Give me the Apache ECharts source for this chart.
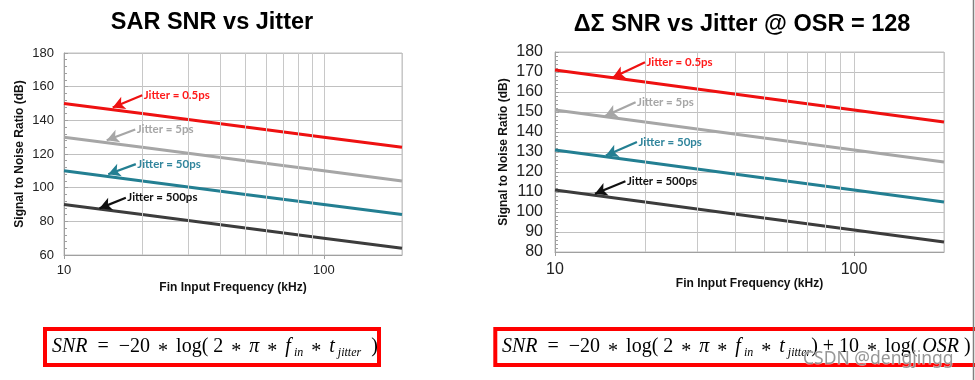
<!DOCTYPE html>
<html>
<head>
<meta charset="utf-8">
<script src="https://cdn.jsdelivr.net/npm/echarts@6/dist/echarts.min.js"></script>
<style>
html,body{margin:0;padding:0;background:#fff;}
#main{width:975px;height:380px;}
</style>
</head>
<body>
<div id="main"></div>
<script>
// ---------- data ----------
const freqs = [10, 20, 50, 100, 200];           // kHz
// SAR SNR (dB)
const sarJ0_5ps = [150, 144, 136, 130, 124];
const sarJ5ps   = [130, 124, 116, 110, 104];
const sarJ50ps  = [110, 104, 96, 90, 84];
const sarJ500ps = [90, 84, 76, 70, 64];
// Delta-Sigma SNR @ OSR=128 (dB)
const dsJ0_5ps = [171, 165, 157, 151, 145];
const dsJ5ps   = [151, 145, 137, 131, 125];
const dsJ50ps  = [131, 125, 117, 111, 105];
const dsJ500ps = [111, 105, 97, 91, 85];
const jitterLabels = ['Jitter = 0.5ps', 'Jitter = 5ps', 'Jitter = 50ps', 'Jitter = 500ps'];
const xTickLabels = [10, 100];
const minorFreqs = [20, 30, 40, 50, 60, 70, 80, 90];
const sarTicks = {min: 60, max: 180, interval: 20};
const dsTicks = {min: 80, max: 180, interval: 10};

// ---------- styles / annotation positions ----------
const colors = ['#ee1111', '#a6a6a6', '#237f92', '#3c3c3c'];
const textColors = ['#ff1a1a', '#a6a6a6', '#31859c', '#111111'];
const sarAnno = [
  {a: [20.0, 154.9], t: [15.4, 147.6]},
  {a: [18.8, 134.6], t: [14.6, 128.2]},
  {a: [18.9, 114.0], t: [14.8, 108.0]},
  {a: [17.3, 94.0], t: [13.7, 87.7]}
];
const dsAnno = [
  {a: [20.0, 174.9], t: [15.6, 167.2]},
  {a: [18.6, 154.9], t: [14.7, 148.0]},
  {a: [18.8, 135.0], t: [14.8, 128.2]},
  {a: [17.2, 115.4], t: [13.6, 109.1]}
];

function zip(xs, ys) { return xs.map((x, i) => [x, ys[i]]); }

function mkSeries(vals, idx, gi, anno) {
  return {
    type: 'line', xAxisIndex: gi, yAxisIndex: gi,
    data: zip(freqs, vals), symbol: 'none', smooth: false, z: 3,
    lineStyle: {color: colors[idx], width: 3},
    silent: true,
    markLine: {
      silent: true, symbol: ['none', 'arrow'], symbolSize: [10, 12],
      label: {show: false},
      lineStyle: {color: idx === 3 ? '#111' : colors[idx], width: 2.2, type: 'solid'},
      data: [[{coord: anno[idx].a}, {coord: anno[idx].t}]]
    },
    markPoint: {
      silent: true, symbol: 'circle', symbolSize: 1,
      itemStyle: {color: 'rgba(0,0,0,0)'},
      label: {
        show: true, position: 'right', distance: 1,
        formatter: jitterLabels[idx],
        color: textColors[idx], fontFamily: 'Lato', fontWeight: 'bold', fontSize: 11.5
      },
      data: [{coord: anno[idx].a}]
    }
  };
}

function gridLinesSeries(gi) {
  return {
    type: 'line', xAxisIndex: gi, yAxisIndex: gi, data: [], z: 1, silent: true,
    markLine: {
      silent: true, symbol: 'none', label: {show: false},
      lineStyle: {color: '#c8c8c8', width: 1, type: 'solid'},
      data: minorFreqs.map(f => ({xAxis: f}))
    }
  };
}

function xAxisCfg(gi, fs, margin, gap) {
  return {
    type: 'log', logBase: 10, min: 10, max: 200, gridIndex: gi,
    name: 'Fin Input Frequency (kHz)', nameLocation: 'middle', nameGap: gap,
    nameMoveOverlap: false,
    nameTextStyle: {fontFamily: 'Liberation Sans', fontWeight: 'bold', fontSize: 12, color: '#111'},
    axisLine: {lineStyle: {color: '#a0a0a0', width: 1}},
    axisTick: {show: true, length: 4, lineStyle: {color: '#a0a0a0'}},
    axisLabel: {
      fontFamily: 'Liberation Sans', fontSize: fs, color: '#222', margin: margin,
      showMaxLabel: false,
      formatter: v => (xTickLabels.indexOf(Math.round(v)) >= 0 ? String(Math.round(v)) : '')
    },
    splitLine: {show: true, lineStyle: {color: '#c8c8c8', width: 1}},
    minorTick: {show: false}, minorSplitLine: {show: false}
  };
}

function yAxisCfg(gi, t, fs, margin, gap) {
  return {
    type: 'value', gridIndex: gi, min: t.min, max: t.max, interval: t.interval,
    name: 'Signal to Noise Ratio (dB)', nameLocation: 'middle', nameGap: gap, nameRotate: 90,
    nameMoveOverlap: false,
    nameTextStyle: {fontFamily: 'Liberation Sans', fontWeight: 'bold', fontSize: 12, color: '#111'},
    axisLine: {show: true, lineStyle: {color: '#a0a0a0', width: 1}},
    axisTick: {show: true, inside: true, length: 4, lineStyle: {color: '#a0a0a0'}},
    minorTick: {show: true, splitNumber: 5, length: 3, lineStyle: {color: '#a0a0a0'}},
    axisLabel: {fontFamily: 'Liberation Sans', fontSize: fs, color: '#222', margin: margin},
    splitLine: {show: true, lineStyle: {color: '#c0c0c0', width: 1}}
  };
}

const serifFont = 'Liberation Serif';
function formulaRich(sz) {
  return {
    i: {fontFamily: serifFont, fontStyle: 'italic', fontSize: sz, color: '#000'},
    n: {fontFamily: serifFont, fontSize: sz, color: '#000'},
    a: {fontFamily: serifFont, fontSize: sz, color: '#000', padding: [sz * 0.5, 3, 0, 3]},
    s: {fontFamily: serifFont, fontStyle: 'italic', fontSize: sz * 0.6, color: '#000', padding: [sz * 0.55, 0, 0, 0]}
  };
}

const chart = echarts.init(document.getElementById('main'), null, {renderer: 'canvas'});
const option = {
  animation: false,
  backgroundColor: '#ffffff',
  grid: [
    {left: 64, top: 53, width: 338, height: 202, show: true, borderColor: '#c0c0c0', borderWidth: 1, backgroundColor: 'transparent'},
    {left: 555, top: 52, width: 389, height: 200, show: true, borderColor: '#c0c0c0', borderWidth: 1, backgroundColor: 'transparent'}
  ],
  xAxis: [xAxisCfg(0, 13, 9, 27), xAxisCfg(1, 16, 10, 26)],
  yAxis: [yAxisCfg(0, sarTicks, 13, 10, 38), yAxisCfg(1, dsTicks, 16, 12, 45)],
  series: [
    gridLinesSeries(0), gridLinesSeries(1),
    mkSeries(sarJ0_5ps, 0, 0, sarAnno),
    mkSeries(sarJ5ps, 1, 0, sarAnno),
    mkSeries(sarJ50ps, 2, 0, sarAnno),
    mkSeries(sarJ500ps, 3, 0, sarAnno),
    mkSeries(dsJ0_5ps, 0, 1, dsAnno),
    mkSeries(dsJ5ps, 1, 1, dsAnno),
    mkSeries(dsJ50ps, 2, 1, dsAnno),
    mkSeries(dsJ500ps, 3, 1, dsAnno)
  ],
  graphic: [
    {type: 'text', x: 212, y: 23, style: {text: 'SAR SNR vs Jitter', fontFamily: 'Liberation Sans', fontWeight: 'bold', fontSize: 23.5, fill: '#000', textAlign: 'center', textVerticalAlign: 'middle'}},
    {type: 'text', x: 742, y: 25, style: {text: 'ΔΣ SNR vs Jitter @ OSR = 128', fontFamily: 'Liberation Sans', fontWeight: 'bold', fontSize: 23.5, fill: '#000', textAlign: 'center', textVerticalAlign: 'middle'}},
    {type: 'rect', shape: {x: 45, y: 329, width: 334, height: 36}, style: {fill: '#fff', stroke: '#ff0000', lineWidth: 4}},
    {type: 'rect', shape: {x: 495.3, y: 329, width: 490, height: 36}, style: {fill: '#fff', stroke: '#ff0000', lineWidth: 4}},
    {type: 'text', x: 52, y: 347, style: {
      text: '{i|SNR}{n|  =  −20 }{a|*}{n| log( 2 }{a|*}{n| }{i|π}{n| }{a|*}{n| }{i|f}{s| in}{n| }{a|*}{n| }{i|t}{s| jitter}{n|  )}',
      rich: formulaRich(20), textVerticalAlign: 'middle', textAlign: 'left'}},
    {type: 'text', x: 502, y: 347, style: {
      text: '{i|SNR}{n|  =  −20 }{a|*}{n| log( 2 }{a|*}{n| }{i|π}{n| }{a|*}{n| }{i|f}{s| in}{n| }{a|*}{n| }{i|t}{s| jitter}{n|) + 10 }{a|*}{n| log( }{i|OSR}{n| )}',
      rich: formulaRich(20), textVerticalAlign: 'middle', textAlign: 'left'}},
    {type: 'text', x: 803, y: 359, z: 100, style: {text: 'CSDN @dengjingg', fontFamily: 'Noto Sans', fontSize: 17.5, fill: 'rgba(140,140,140,0.9)', stroke: 'rgba(255,255,255,0.6)', lineWidth: 1, textVerticalAlign: 'middle', textAlign: 'left'}},
    {type: 'line', shape: {x1: 973.5, y1: 0, x2: 973.5, y2: 380}, style: {stroke: '#808080', lineWidth: 1.5}}
  ]
};
chart.setOption(option);
</script>
</body>
</html>
